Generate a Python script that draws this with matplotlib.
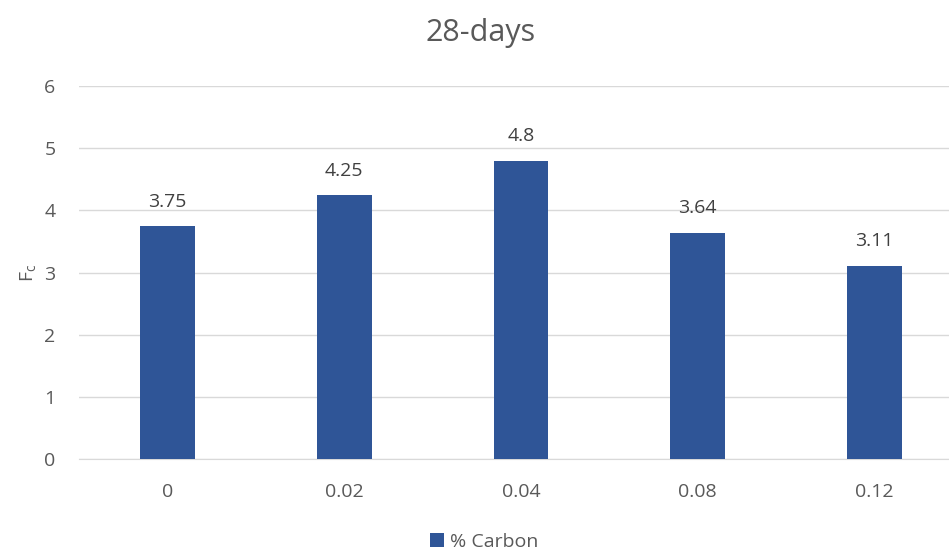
import matplotlib.pyplot as plt
import numpy as np

plt.rcParams['font.family'] = ['Open Sans', 'DejaVu Sans']

categories = ['0', '0.02', '0.04', '0.08', '0.12']
values = [3.75, 4.25, 4.8, 3.64, 3.11]
labels = ['3.75', '4.25', '4.8', '3.64', '3.11']

txt = '#595959'
fig = plt.figure(figsize=(9.49, 5.52), dpi=100)
ax = fig.add_axes([79 / 949, 93 / 552, 884 / 949, 373 / 552])

x = np.arange(len(categories))
bars = ax.bar(x, values, width=0.31, color='#2F5597', zorder=3, label='% Carbon')
for b, lab in zip(bars, labels):
    ax.text(b.get_x() + b.get_width() / 2, b.get_height() + 0.39, lab,
            ha='center', va='center', fontsize=14, color='#404040')

ax.set_xlim(-0.5, len(categories) - 0.5)
ax.set_ylim(0, 6)
ax.set_yticks(range(7))
ax.set_xticks(x)
ax.set_xticklabels(categories)
ax.grid(axis='y', color='#D9D9D9', linewidth=1, zorder=0)
for s in ['top', 'right', 'left']:
    ax.spines[s].set_visible(False)
ax.spines['bottom'].set_color('#D9D9D9')
ax.tick_params(length=0, colors=txt, labelsize=14)
ax.tick_params(axis='y', pad=17)
ax.tick_params(axis='x', pad=17)

ax.set_ylabel('F$_\\mathregular{c}$', color=txt, fontsize=14, labelpad=4)
fig.text(481 / 949, 1 - 33 / 552, '28-days', ha='center', va='center',
         fontsize=22, color=txt)
fig.legend(loc='center', bbox_to_anchor=(484 / 949, 1 - 542 / 552), frameon=False,
           fontsize=14, labelcolor=txt, handlelength=0.7, handleheight=0.7,
           handletextpad=0.3)

fig.savefig('out.png', dpi=100)
